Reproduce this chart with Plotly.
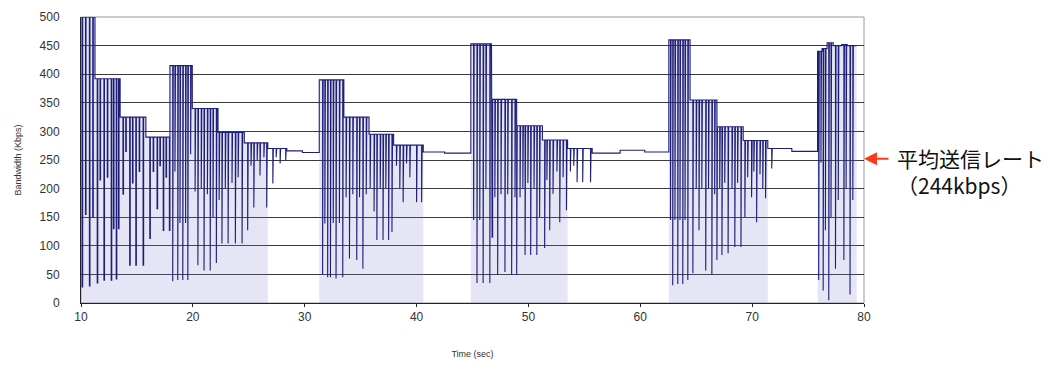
import plotly.graph_objects as go

# ---- data ----
# step levels of the bandwidth trace: start time (sec) and level (Kbps)
step_start = [10.05, 11.25, 13.5, 15.8, 17.95, 19.95, 22.25, 24.6, 26.7, 28.4, 29.8,
              31.3, 33.5, 35.75, 37.95, 40.6, 42.5,
              44.85, 46.7, 49.0, 51.25, 53.5, 55.7, 58.2, 60.4,
              62.55, 64.45, 66.9, 69.2, 71.4, 73.55,
              75.85, 76.25, 76.7, 77.25, 78.0, 78.5]
step_level = [500, 392, 325, 290, 415, 340, 298, 280, 270, 266, 263,
              390, 325, 295, 276, 264, 262,
              453, 356, 310, 285, 270, 262, 267, 264,
              460, 355, 308, 284, 270, 265,
              440, 445, 455, 450, 452, 450]
end_time = 79.35

# downward spikes: time (sec) and bottom value (Kbps)
spike_t = [10.1, 10.4, 10.75, 11.05,
           11.45, 11.7, 12.05, 12.35, 12.7, 12.9, 13.15, 13.35,
           13.75, 14.0, 14.35, 14.6, 14.9, 15.2, 15.55,
           16.15, 16.45, 16.8, 17.05, 17.35, 17.6, 17.9,
           18.2, 18.4, 18.65, 18.85, 19.1, 19.35, 19.55, 19.8,
           20.2, 20.45, 20.75, 21.0, 21.3, 21.55, 21.8, 22.1,
           22.35, 22.6, 22.9, 23.15, 23.5, 23.8, 24.05, 24.4,
           24.9, 25.2, 25.45, 25.75, 26.0, 26.35, 26.6,
           27.15, 27.45, 27.8, 28.3,
           31.6, 31.8, 32.05, 32.3, 32.55, 32.8, 33.1, 33.4,
           33.7, 34.0, 34.3, 34.65, 34.9, 35.2, 35.5,
           35.85, 36.2, 36.45, 36.75, 37.0, 37.25, 37.5, 37.8,
           38.2, 38.5, 38.8, 39.1, 39.4, 40.0, 40.45,
           45.1, 45.4, 45.65, 45.95, 46.2, 46.55,
           46.75, 47.0, 47.25, 47.55, 47.9, 48.15, 48.5, 48.8, 48.95,
           49.25, 49.5, 49.7, 49.95, 50.2, 50.5, 50.75, 51.0,
           51.45, 51.65, 51.9, 52.2, 52.55, 52.8, 53.1, 53.4,
           53.75, 54.05, 54.35, 54.85, 55.55,
           62.7, 62.9, 63.1, 63.35, 63.55, 63.8, 64.0, 64.25,
           64.7, 65.0, 65.25, 65.5, 65.85, 66.1, 66.4, 66.65, 66.85,
           67.1, 67.3, 67.55, 67.85, 68.2, 68.45, 68.7, 69.0,
           69.35, 69.6, 69.95, 70.15, 70.4, 70.7, 70.95, 71.2,
           71.75,
           75.95, 76.15, 76.35, 76.55, 76.85, 77.05, 77.45, 77.7, 78.2, 78.4, 78.75, 79.0]
spike_bottom = [28, 155, 30, 150,
                35, 215, 40, 220, 40, 130, 42, 130,
                190, 265, 66, 210, 66, 230, 66,
                113, 230, 165, 240, 127, 220, 127,
                38, 230, 40, 140, 40, 140, 40, 260,
                195, 66, 200, 57, 190, 57, 150, 70,
                180, 104, 200, 104, 210, 104, 220, 104,
                127, 240, 167, 250, 223, 255, 167,
                209, 255, 244, 249,
                49, 139, 45, 45, 140, 43, 140, 45,
                185, 78, 190, 75, 185, 60, 190,
                200, 160, 110, 200, 110, 200, 110, 124,
                240, 200, 176, 244, 220, 176, 176,
                145, 35, 145, 35, 200, 35,
                115, 185, 49, 190, 54, 190, 49, 185, 49,
                185, 200, 84, 210, 84, 200, 84, 150,
                96, 215, 127, 191, 230, 141, 220, 162,
                230, 240, 211, 211, 211,
                145, 31, 145, 33, 145, 33, 145, 40,
                52, 200, 127, 200, 57, 200, 49, 190, 75,
                200, 84, 210, 87, 200, 98, 210, 98,
                150, 220, 185, 230, 141, 225, 200, 183,
                235,
                40, 245, 22, 127, 5, 150, 60, 180, 75, 200, 15, 180]

x_ticks = [10, 20, 30, 40, 50, 60, 70, 80]
y_ticks = [0, 50, 100, 150, 200, 250, 300, 350, 400, 450, 500]

# ---- build the line path from the arrays ----
spike_w = 0.05
xs, ys = [], []
bounds = step_start[1:] + [end_time]
for s, e, lev in zip(step_start, bounds, step_level):
    xs.append(s); ys.append(lev)
    for t, b in zip(spike_t, spike_bottom):
        if s <= t < e:
            xs += [t, t, t + spike_w, t + spike_w]
            ys += [lev, b, b, lev]
    xs.append(e); ys.append(lev)

# tinted areas under each burst (contiguous steps above the flat baseline)
groups, cur = [], None
for s, e, lev in zip(step_start, bounds, step_level):
    if lev > 272:
        if cur is None:
            cur = ([], [])
            groups.append(cur)
        cur[0].extend([s, e]); cur[1].extend([lev, lev])
    else:
        cur = None

fig = go.Figure()
for gx, gy in groups:
    fig.add_trace(go.Scatter(x=gx, y=gy, mode="lines", line=dict(width=0),
                             fill="tozeroy", fillcolor="rgba(125,125,205,0.2)",
                             hoverinfo="skip", showlegend=False))
fig.add_trace(go.Scatter(x=xs, y=ys, mode="lines",
                         line=dict(color="#1f1f7a", width=1.1),
                         showlegend=False))

fig.add_annotation(x=1.0, xref="paper", y=252, yref="y", ax=26, ay=0,
                   text="", showarrow=True, arrowhead=2, arrowsize=1.3,
                   arrowwidth=2, arrowcolor="#ff3a1a")
fig.add_annotation(x=1.0, xref="paper", y=252, yref="y", xshift=31,
                   text="平均送信レート<br>（244kbps）", showarrow=False,
                   xanchor="left", yanchor="top", yshift=18, align="left",
                   font=dict(family="Noto Sans CJK JP", size=21, color="#111111"))

fig.update_layout(
    width=1051, height=359,
    margin=dict(l=73, r=195, t=9, b=64, autoexpand=False),
    paper_bgcolor="white", plot_bgcolor="white",
    font=dict(family="Liberation Sans, Arial", color="#333333"),
    xaxis=dict(range=[10, 80], tickvals=x_ticks, showgrid=False, automargin=False,
               showline=True, linecolor="#222222", linewidth=1, mirror=False,
               ticks="outside", ticklen=3, tickcolor="#222222",
               tickfont=dict(size=12, color="#333333"),
               title=dict(text="Time (sec)", font=dict(size=9, color="#333333"), standoff=27),
               zeroline=False),
    yaxis=dict(range=[0, 500], tickvals=y_ticks, showgrid=True, automargin=False,
               gridcolor="#3a3a3a", gridwidth=1,
               showline=True, linecolor="#222222", linewidth=1,
               ticks="", ticklabelstandoff=18,
               tickfont=dict(size=12, color="#333333"),
               title=dict(text="Bandwidth (Kbps)", font=dict(size=9, color="#333333"), standoff=16),
               zeroline=False),
)
fig.add_shape(type="rect", xref="paper", yref="paper", x0=0, x1=1, y0=0, y1=1,
              line=dict(color="#9a9a9a", width=1), layer="below")

fig.write_html("out.html")
